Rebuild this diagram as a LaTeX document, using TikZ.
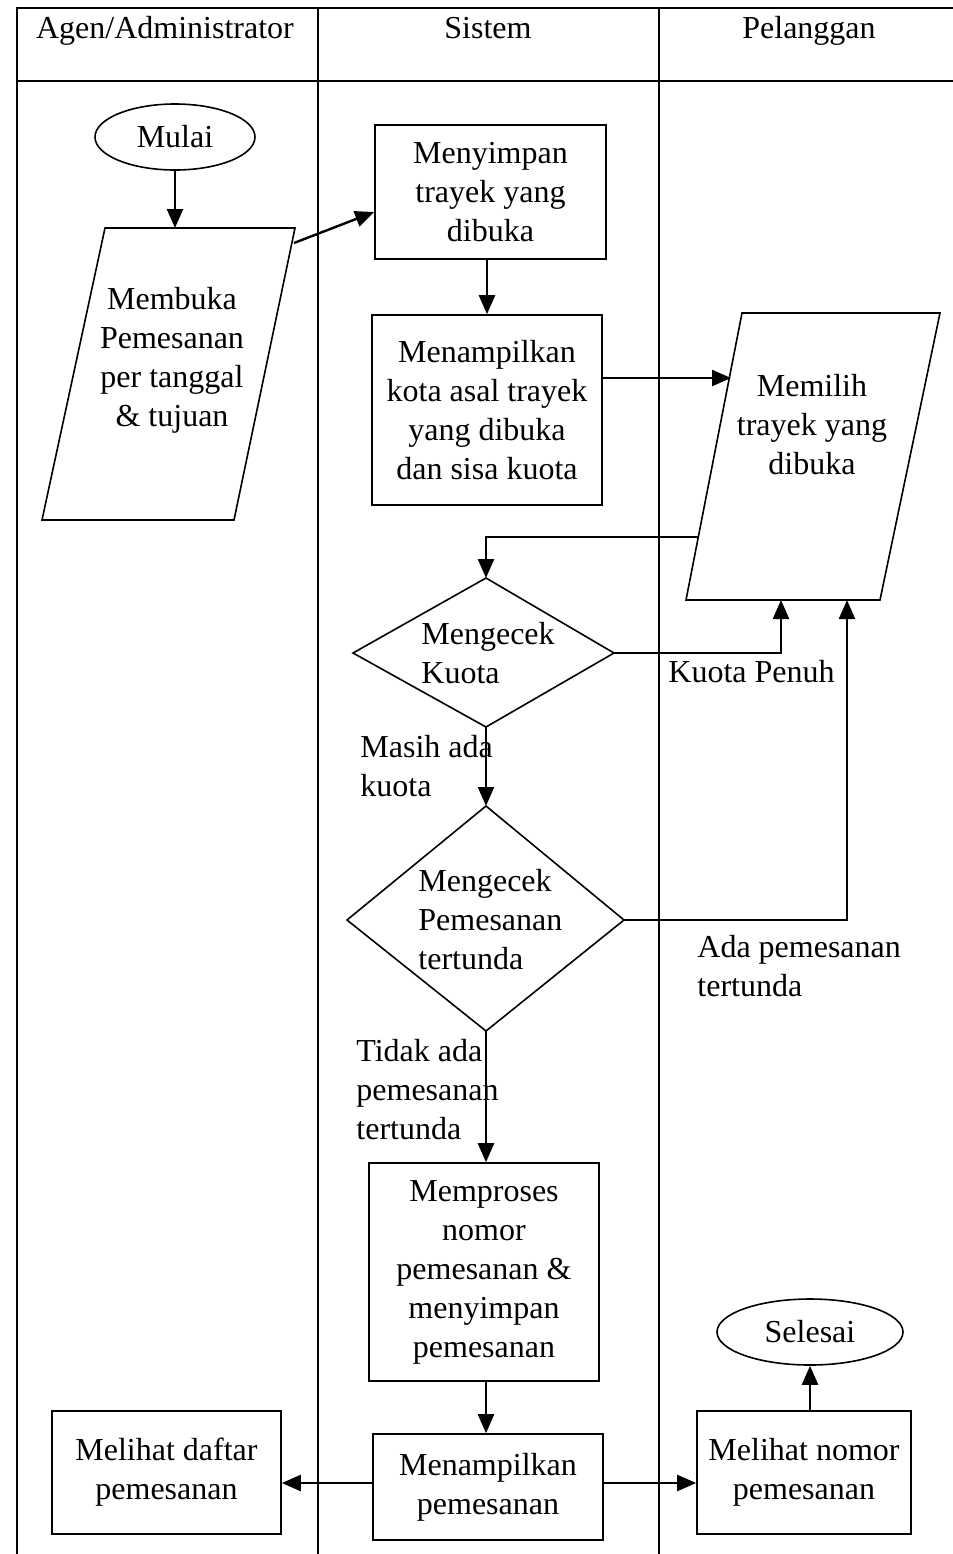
\documentclass[tikz,border=0pt]{standalone}
\usepackage{fontspec}
\setmainfont{Liberation Serif}
\usetikzlibrary{arrows.meta,shapes.geometric}
\begin{document}
\begin{tikzpicture}[x=0.5pt,y=-0.5pt,
  every node/.style={font=\fontsize{16}{19.5}\selectfont, inner sep=0pt},
  grid/.style={line width=0.8pt},
  shp/.style={draw, line width=0.8pt},
  conn/.style={line width=1.2pt, -{Triangle[length=9.5pt,width=8pt]}},
  lbl/.style={align=left, anchor=west},
  txt/.style={align=center}]
\useasboundingbox (0,0) rectangle (953,1554);
% table
\draw[grid] (17,1554) -- (17,8) -- (953,8);
\draw[grid] (17,81) -- (953,81);
\draw[grid] (318,8) -- (318,1554);
\draw[grid] (659,8) -- (659,1554);
\node[anchor=base] (h1) at (165,38) {Agen/Administrator};
\node[anchor=base] (h2) at (488,38) {Sistem};
\node[anchor=base] (h3) at (809,38) {Pelanggan};
% Mulai
\node[shp, ellipse, minimum width=80pt, minimum height=33pt] (mulai) at (175,137) {Mulai};
% parallelogram 1
\draw[shp] (105,228) -- (295,228) -- (234,520) -- (42,520) -- cycle;
\node[txt] (p1) at (172,360) {Membuka\\Pemesanan\\per tanggal\\\& tujuan};
\coordinate (p1top) at (175,228);
\coordinate (p1r) at (294,243);
% Sistem boxes
\node[shp, minimum width=115.5pt, minimum height=67pt, txt] (ms) at (490.5,192) {Menyimpan\\trayek yang\\dibuka};
\node[shp, minimum width=115pt, minimum height=95pt, txt] (mk) at (487,410) {Menampilkan\\kota asal trayek\\yang dibuka\\dan sisa kuota};
% parallelogram 2
\draw[shp] (742,313) -- (940,313) -- (880,600) -- (686,600) -- cycle;
\node[txt] (p2) at (812,425) {Memilih\\trayek yang\\dibuka};
\coordinate (p2l) at (731,378);
\coordinate (p2l2) at (698,537);
\coordinate (p2b1) at (781,600);
\coordinate (p2b2) at (847,600);
% diamonds
\draw[shp] (486,578) coordinate (d1t) -- (614,653) coordinate (d1r) -- (486,727) coordinate (d1b) -- (353,653) coordinate (d1l) -- cycle;
\node[lbl] (d1) at (421,653) {Mengecek\\Kuota};
\draw[shp] (486,806) coordinate (d2t) -- (624,920) coordinate (d2r) -- (486,1031) coordinate (d2b) -- (347,920) coordinate (d2l) -- cycle;
\node[lbl] (d2) at (418,920) {Mengecek\\Pemesanan\\tertunda};
% lower boxes
\node[shp, minimum width=115pt, minimum height=109pt, txt] (mp) at (484,1272) {Memproses\\nomor\\pemesanan \&\\menyimpan\\pemesanan};
\node[shp, minimum width=115pt, minimum height=53pt, txt] (tp) at (488,1487) {Menampilkan\\pemesanan};
\node[shp, minimum width=114.5pt, minimum height=61.5pt, txt] (ld) at (166.5,1472.5) {Melihat daftar\\pemesanan};
\node[shp, minimum width=107pt, minimum height=61.5pt, txt] (ln) at (804,1472.5) {Melihat nomor\\pemesanan};
\node[shp, ellipse, minimum width=93pt, minimum height=33pt] (sel) at (810,1332) {Selesai};
% labels
\node[lbl] (l1) at (668,672) {Kuota Penuh};
\node[lbl] (l2) at (360,766) {Masih ada\\kuota};
\node[lbl] (l3) at (697,966) {Ada pemesanan\\tertunda};
\node[lbl] (l4) at (356,1090) {Tidak ada\\pemesanan\\tertunda};
% connectors
\draw[conn] (mulai.south) -- (p1top);
\draw[conn] (p1r) -- (ms.west |- 0,212);
\draw[conn] (ms.south -| 487,0) -- (mk.north -| 487,0);
\draw[conn] (mk.east |- 0,378) -- (p2l);
\draw[conn] (p2l2) -- (486,537) -- (d1t);
\draw[conn] (d1r) -- (781,653) -- (p2b1);
\draw[conn] (d1b) -- (d2t);
\draw[conn] (d2r) -- (847,920) -- (p2b2);
\draw[conn] (d2b) -- (d2b |- mp.north);
\draw[conn] (mp.south -| 486,0) -- (tp.north -| 486,0);
\draw[conn] (tp.west |- 0,1483) -- (ld.east |- 0,1483);
\draw[conn] (tp.east |- 0,1483) -- (ln.west |- 0,1483);
\draw[conn] (ln.north -| sel.south) -- (sel.south);
\end{tikzpicture}
\end{document}
